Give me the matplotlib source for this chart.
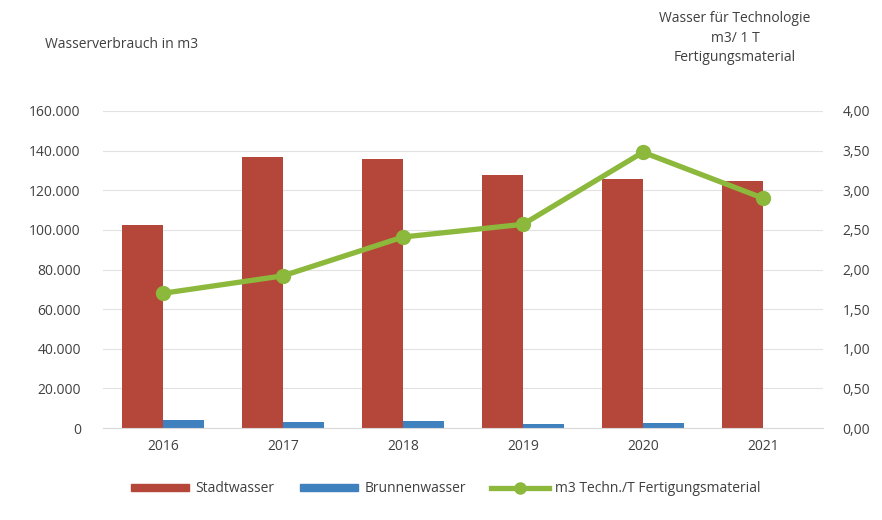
import matplotlib

matplotlib.use("Agg")
import matplotlib.pyplot as plt
import numpy as np
from matplotlib.patches import Patch
from matplotlib.lines import Line2D
from matplotlib.ticker import FuncFormatter

plt.rcParams["font.family"] = ["Open Sans", "DejaVu Sans"]

# Data
years = ["2016", "2017", "2018", "2019", "2020", "2021"]
stadtwasser = [102500, 136800, 135800, 127700, 125700, 124700]
brunnenwasser = [4000, 3000, 3500, 2000, 2500, 0]
techn_per_t = [1.70, 1.92, 2.41, 2.57, 3.48, 2.90]

C_RED = "#b5473a"
C_BLUE = "#3f80bf"
C_GREEN = "#8cb83c"
C_TEXT = "#404040"

fig = plt.figure(figsize=(8.82, 5.2), dpi=100)
ax = fig.add_axes([103 / 882, 1 - 428 / 520, 720 / 882, 317 / 520])
ax2 = ax.twinx()

x = np.arange(len(years))
w = 0.34
ax.bar(x - w / 2, stadtwasser, width=w, color=C_RED, zorder=2)
ax.bar(x + w / 2, brunnenwasser, width=w, color=C_BLUE, zorder=2)
ax2.plot(x, techn_per_t, color=C_GREEN, lw=3.8, marker="o", ms=10,
         solid_capstyle="round", zorder=3)

ax.set_xlim(-0.5, len(years) - 0.5)
ax.set_ylim(0, 160000)
ax.set_yticks(np.arange(0, 160001, 20000))
ax.yaxis.set_major_formatter(
    FuncFormatter(lambda v, p: f"{int(v):,}".replace(",", ".")))
ax2.set_ylim(0, 4)
ax2.set_yticks(np.arange(0, 4.01, 0.5))
ax2.yaxis.set_major_formatter(
    FuncFormatter(lambda v, p: f"{v:.2f}".replace(".", ",")))

ax.set_xticks(x)
ax.set_xticklabels(years)
ax.grid(axis="y", color="#e2e2e2", lw=0.8, zorder=0)
ax.set_axisbelow(True)

for a in (ax, ax2):
    for s in a.spines.values():
        s.set_visible(False)
    a.tick_params(length=0, colors=C_TEXT, labelsize=10)
ax.spines["bottom"].set_visible(True)
ax.spines["bottom"].set_color("#d9d9d9")
ax.tick_params(axis="x", pad=8)
ax.tick_params(axis="y", pad=16)
ax2.tick_params(axis="y", pad=14)

fig.text(45 / 882, 1 - 45 / 520, "Wasserverbrauch in m3", fontsize=10,
         color=C_TEXT, va="center", ha="left")
fig.text(735 / 882, 1 - 38 / 520,
         "Wasser für Technologie\nm3/ 1 T\nFertigungsmaterial",
         fontsize=10, color=C_TEXT, va="center", ha="center", linespacing=1.45)

handles = [
    Patch(color=C_RED, label="Stadtwasser"),
    Patch(color=C_BLUE, label="Brunnenwasser"),
    Line2D([], [], color=C_GREEN, lw=3.8, marker="o", ms=8,
           label="m3 Techn./T Fertigungsmaterial"),
]
fig.legend(handles=handles, loc="center", ncol=3, frameon=False,
           bbox_to_anchor=(446 / 882, 1 - 489 / 520), fontsize=10,
           handlelength=4.2, handleheight=0.45, handletextpad=0.45,
           columnspacing=1.8, labelcolor=C_TEXT)

fig.savefig("out.png", dpi=100)
